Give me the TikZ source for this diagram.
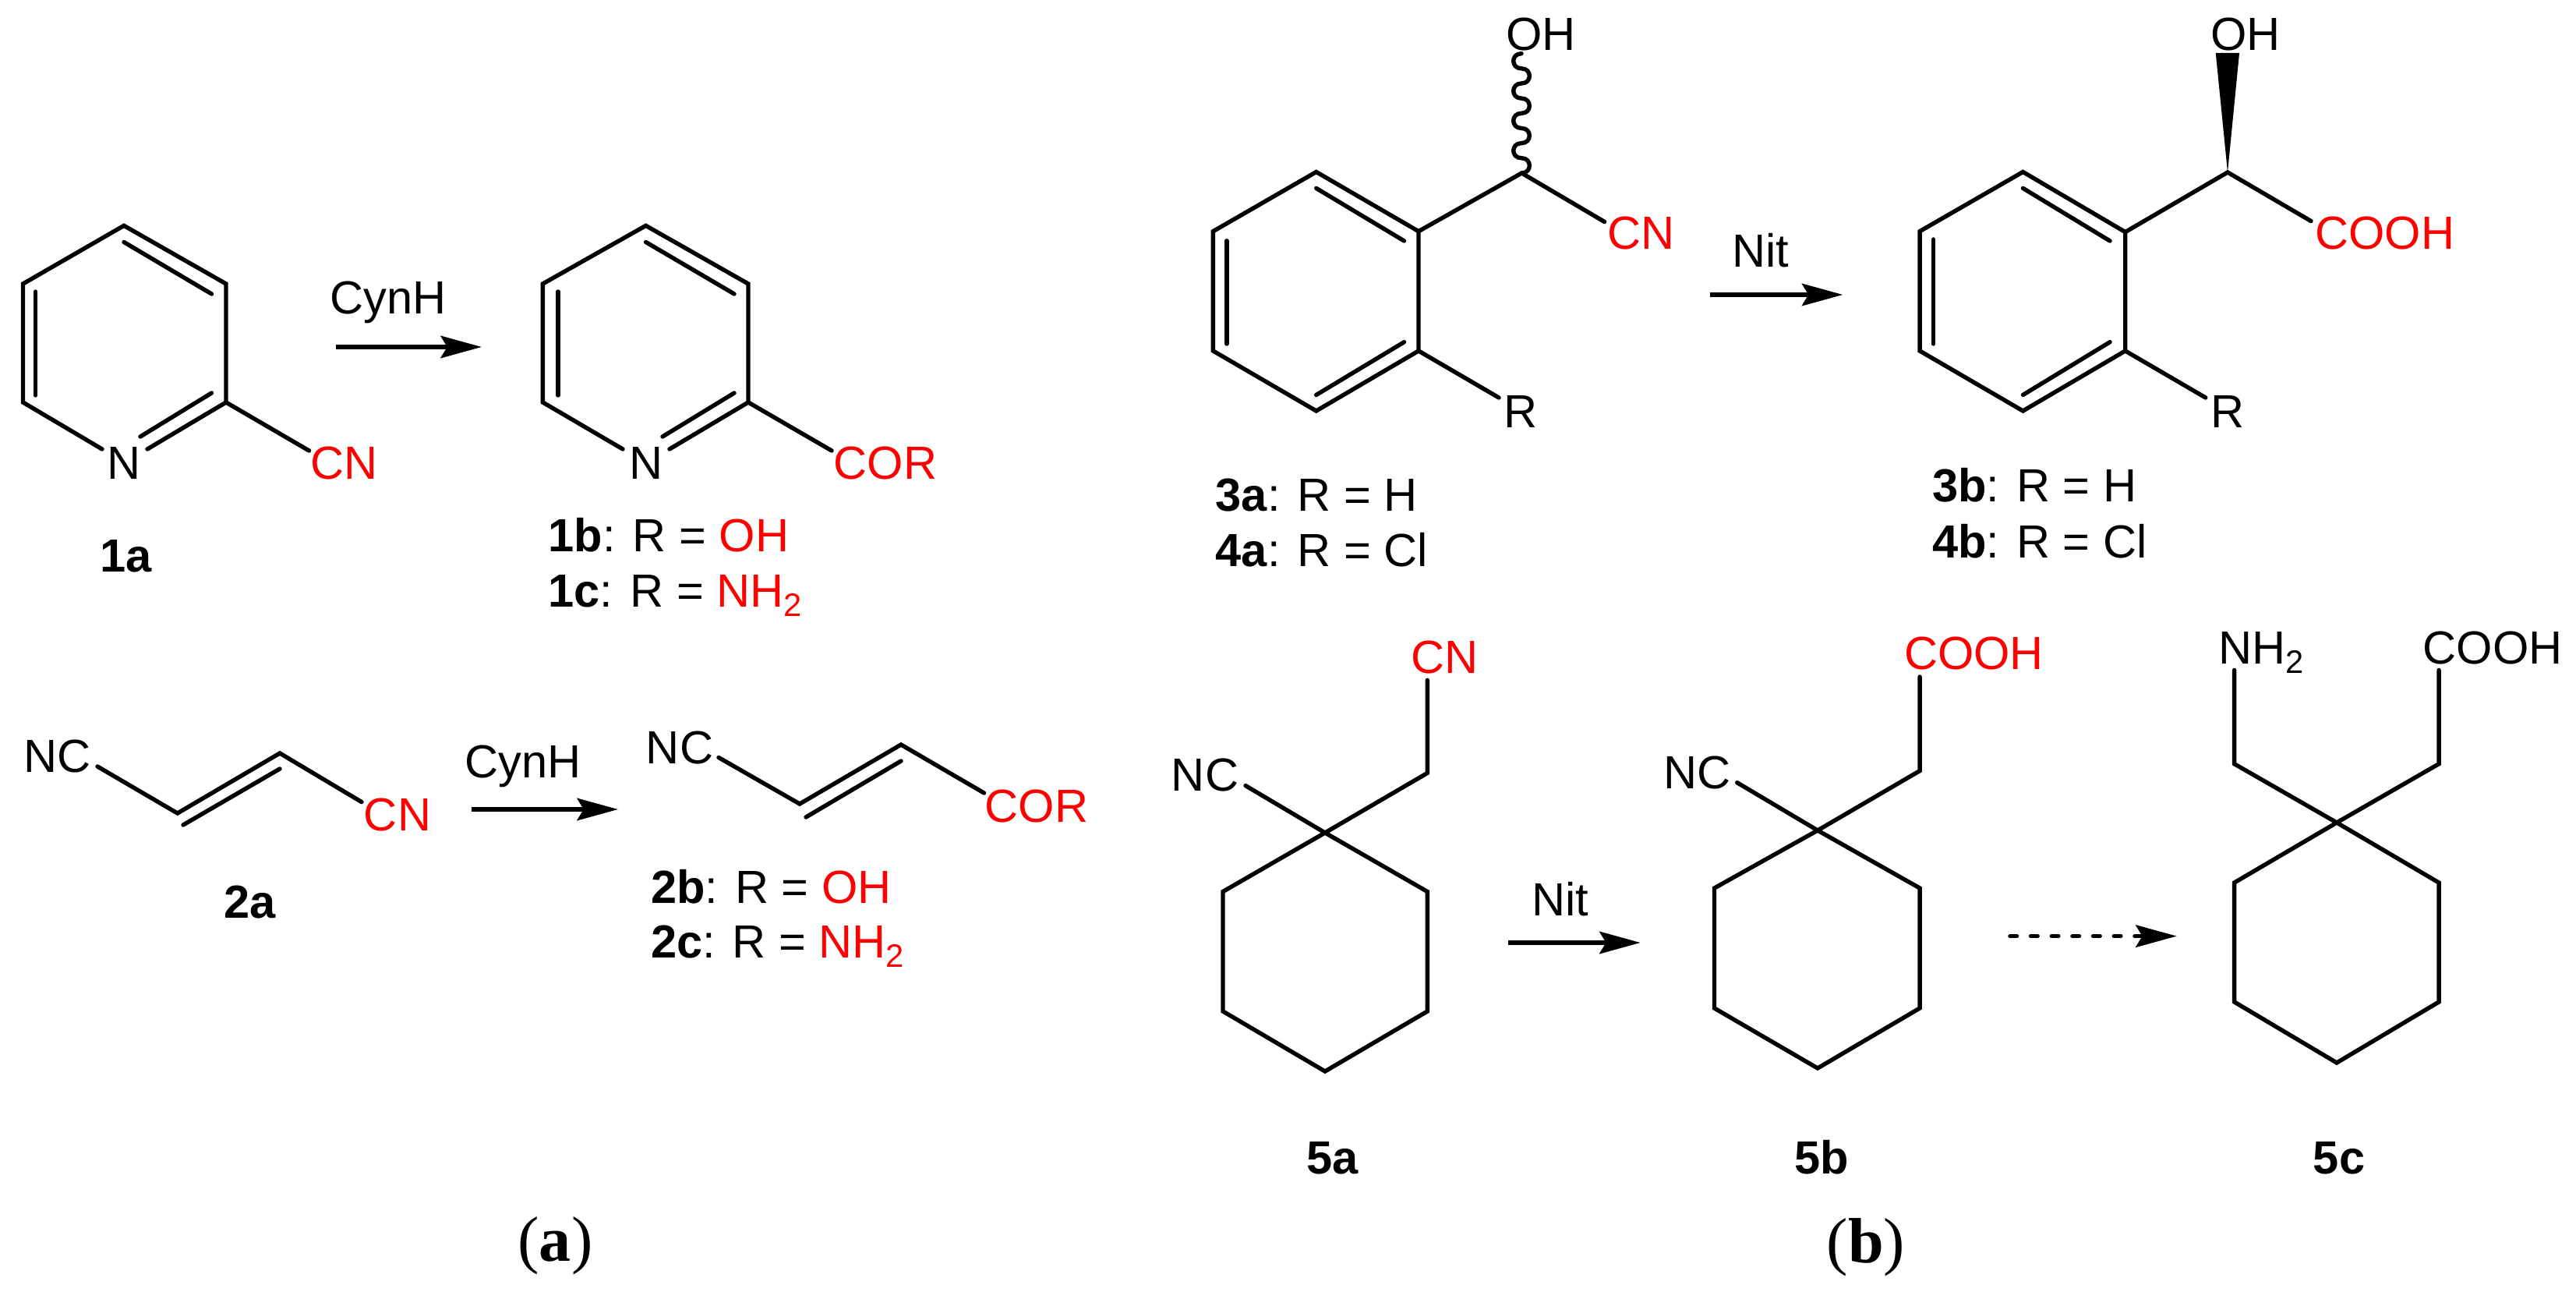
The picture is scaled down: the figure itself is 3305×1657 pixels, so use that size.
\documentclass[tikz,border=0pt]{standalone}
\usepackage{fontspec}
\setmainfont{Liberation Sans}
\newfontfamily\capfont{Liberation Serif}
\usetikzlibrary{arrows.meta}
\definecolor{hetred}{RGB}{255,0,0}
\newcommand{\lowtwo}{\raisebox{-2.9pt}{\fontsize{10}{10}\selectfont 2}}
\newcommand{\rd}[1]{\textcolor{hetred}{#1}}
\tikzset{
  bond/.style={line width=1.3pt,line cap=round,miter limit=10},
  atom/.style={inner sep=0pt,outer sep=0pt,anchor=base,font=\fontsize{14.3}{16}\selectfont},
  lab/.style={inner sep=0pt,outer sep=0pt,anchor=base west,font=\fontsize{14.3}{16}\selectfont},
  panel/.style={inner sep=0pt,outer sep=0pt,anchor=base,font=\fontsize{19.7}{22}\selectfont\capfont},
  rxn/.style={line width=1.37pt,-{Stealth[length=12.6pt,width=6.8pt,inset=2pt]}},
  rxnd/.style={rxn,line cap=round,dash pattern=on 2pt off 4.4pt}
}
\begin{document}
\begin{tikzpicture}[x=0.24pt,y=-0.24pt]
\useasboundingbox (0,0) rectangle (3305,1657);
% ---------- 1a
\coordinate (a1) at (159,289.4); \coordinate (a2) at (290,364); \coordinate (a3) at (290,516);
\coordinate (a4) at (29.5,516); \coordinate (a5) at (29.5,364);
\coordinate (a6) at (131,576); \coordinate (a7) at (189,576); \coordinate (a8) at (396.5,578);
\draw[bond] (a6) -- (a4) -- (a5) -- (a1) -- (a2) -- (a3) -- (a7);
\draw[bond] (a3) -- (a8);
\coordinate (a9) at (159,310.5); \coordinate (a10) at (271.5,377);
\coordinate (a11) at (45.5,374); \coordinate (a12) at (45.5,507);
\coordinate (a13) at (271.5,504); \coordinate (a14) at (180,560);
\draw[bond] (a9) -- (a10); \draw[bond] (a11) -- (a12); \draw[bond] (a13) -- (a14);
\node[atom] (aN) at (159,614) {N};
\node[atom] (aCN) at (442,614) {\rd{CN}};
\node[atom] (l1a) at (162,733) {\textbf{1a}};
\node[atom] (cyn1) at (498,403) {CynH};
\coordinate (ar1s) at (431,445); \coordinate (ar1e) at (618,445);
\draw[rxn] (ar1s) -- (ar1e);
% ---------- 1b
\coordinate (b1) at (828.6,289.4); \coordinate (b2) at (960,364); \coordinate (b3) at (960,516);
\coordinate (b4) at (696.4,516); \coordinate (b5) at (696.4,364);
\coordinate (b6) at (799,576); \coordinate (b7) at (859,576); \coordinate (b8) at (1067,578);
\draw[bond] (b6) -- (b4) -- (b5) -- (b1) -- (b2) -- (b3) -- (b7);
\draw[bond] (b3) -- (b8);
\coordinate (b9) at (828.6,310.5); \coordinate (b10) at (942,377);
\coordinate (b11) at (716,374); \coordinate (b12) at (716,507);
\coordinate (b13) at (942,504); \coordinate (b14) at (850,560);
\draw[bond] (b9) -- (b10); \draw[bond] (b11) -- (b12); \draw[bond] (b13) -- (b14);
\node[atom] (bN) at (828.6,614) {N};
\node[atom] (bCOR) at (1136,614) {\rd{COR}};
\node[lab] (l1b) at (703.6,707) {\textbf{1b}: R = \rd{OH}};
\node[lab] (l1c) at (703.6,778) {\textbf{1c}: R = \rd{NH\lowtwo}};
% ---------- 2a
\coordinate (c1) at (125,983); \coordinate (c2) at (227.7,1043); \coordinate (c3) at (359,966); \coordinate (c4) at (464,1028.6);
\draw[bond] (c1) -- (c2) -- (c3) -- (c4);
\coordinate (c5) at (235,1058); \coordinate (c6) at (359,986);
\draw[bond] (c5) -- (c6);
\node[atom] (cNC) at (74,990) {NC};
\node[atom] (cCN) at (510,1065) {\rd{CN}};
\node[atom] (l2a) at (321,1177) {\textbf{2a}};
\node[atom] (cyn2) at (671,997) {CynH};
\coordinate (ar2s) at (605,1038); \coordinate (ar2e) at (793,1038);
\draw[rxn] (ar2s) -- (ar2e);
% ---------- 2b
\coordinate (d1) at (922,971.5); \coordinate (d2) at (1026,1031); \coordinate (d3) at (1156,955); \coordinate (d4) at (1262.5,1017);
\draw[bond] (d1) -- (d2) -- (d3) -- (d4);
\coordinate (d5) at (1034,1048); \coordinate (d6) at (1156,976);
\draw[bond] (d5) -- (d6);
\node[atom] (dNC) at (872,979) {NC};
\node[atom] (dCOR) at (1330,1054) {\rd{COR}};
\node[lab] (l2b) at (835,1158) {\textbf{2b}: R = \rd{OH}};
\node[lab] (l2c) at (835,1228) {\textbf{2c}: R = \rd{NH\lowtwo}};
\node[panel] (pa) at (712.5,1617) {(\textbf{a})};
% ---------- 3a
\coordinate (e1) at (1688.7,220.5); \coordinate (e2) at (1820,296.7); \coordinate (e3) at (1820,450);
\coordinate (e4) at (1688.7,527); \coordinate (e5) at (1556.4,450); \coordinate (e6) at (1556.4,296.7);
\draw[bond] (e1) -- (e2) -- (e3) -- (e4) -- (e5) -- (e6) -- cycle;
\coordinate (e7) at (1688.7,241.4); \coordinate (e8) at (1801.5,309);
\coordinate (e9) at (1573.8,308.8); \coordinate (e10) at (1573.8,441);
\coordinate (e11) at (1801.5,438.7); \coordinate (e12) at (1688.7,506.5);
\draw[bond] (e7) -- (e8); \draw[bond] (e9) -- (e10); \draw[bond] (e11) -- (e12);
\coordinate (e13) at (1952.3,222); \coordinate (e14) at (2058.6,284.5); \coordinate (e15) at (1923,510);
\draw[bond] (e2) -- (e13) -- (e14); \draw[bond] (e3) -- (e15);
\coordinate (e16) at (1952,68.7);
\draw[bond] (e16)
  .. controls (1938.27,68.7) and (1938.27,87.85) .. (1952,87.85)
  .. controls (1965.73,87.85) and (1965.73,107) .. (1952,107)
  .. controls (1938.27,107) and (1938.27,126.15) .. (1952,126.15)
  .. controls (1965.73,126.15) and (1965.73,145.3) .. (1952,145.3)
  .. controls (1938.27,145.3) and (1938.27,164.45) .. (1952,164.45)
  .. controls (1965.73,164.45) and (1965.73,183.6) .. (1952,183.6)
  .. controls (1938.27,183.6) and (1938.27,202.75) .. (1952,202.75)
  .. controls (1965.73,202.75) and (1965.73,221.9) .. (e13);
\node[atom] (eOH) at (1977,64.5) {OH};
\node[atom] (eCN) at (2105,320) {\rd{CN}};
\node[atom] (eR) at (1951,549) {R};
\node[atom] (nit1) at (2259,343) {Nit};
\coordinate (ar3s) at (2194,378); \coordinate (ar3e) at (2364.4,378);
\draw[rxn] (ar3s) -- (ar3e);
\node[lab] (l3a) at (1559.7,655.3) {\textbf{3a}: R = H};
\node[lab] (l4a) at (1559.7,727) {\textbf{4a}: R = Cl};
% ---------- 3b
\coordinate (f1) at (2595.4,220.5); \coordinate (f2) at (2726.7,297.6); \coordinate (f3) at (2726.7,450);
\coordinate (f4) at (2595.4,527); \coordinate (f5) at (2463,450); \coordinate (f6) at (2463,296.7);
\draw[bond] (f1) -- (f2) -- (f3) -- (f4) -- (f5) -- (f6) -- cycle;
\coordinate (f7) at (2595.4,241.4); \coordinate (f8) at (2707,309);
\coordinate (f9) at (2480.5,307); \coordinate (f10) at (2480.5,441);
\coordinate (f11) at (2707,438.7); \coordinate (f12) at (2595.4,506.5);
\draw[bond] (f7) -- (f8); \draw[bond] (f9) -- (f10); \draw[bond] (f11) -- (f12);
\coordinate (f13) at (2858,221); \coordinate (f14) at (2965,283.6); \coordinate (f15) at (2829.7,510);
\draw[bond] (f2) -- (f13) -- (f14); \draw[bond] (f3) -- (f15);
\coordinate (w1) at (2842.7,68); \coordinate (w2) at (2873,68);
\fill (f13) -- (w1) -- (w2) -- cycle;
\node[atom] (fOH) at (2880.7,64.5) {OH};
\node[atom] (fCOOH) at (3059.7,320) {\rd{COOH}};
\node[atom] (fR) at (2858,549) {R};
\node[lab] (l3b) at (2479,643.7) {\textbf{3b}: R = H};
\node[lab] (l4b) at (2479,715.5) {\textbf{4b}: R = Cl};
% ---------- 5a
\coordinate (g0) at (1700,1068); \coordinate (g1) at (1831.3,991.4); \coordinate (g2) at (1831.3,872.3);
\coordinate (g3) at (1598,1007.6);
\coordinate (g4) at (1831.3,1143.5); \coordinate (g5) at (1831.3,1297); \coordinate (g6) at (1700,1374);
\coordinate (g7) at (1569,1297); \coordinate (g8) at (1569,1143.5);
\draw[bond] (g0) -- (g4) -- (g5) -- (g6) -- (g7) -- (g8) -- cycle;
\draw[bond] (g2) -- (g1) -- (g0) -- (g3);
\node[atom] (gCN) at (1853,863) {\rd{CN}};
\node[atom] (gNC) at (1546,1014) {NC};
\node[atom] (l5a) at (1710,1505) {\textbf{5a}};
\node[atom] (nit2) at (2001.5,1174) {Nit};
\coordinate (ar4s) at (1934.6,1209); \coordinate (ar4e) at (2104.7,1209);
\draw[rxn] (ar4s) -- (ar4e);
% ---------- 5b
\coordinate (h0) at (2332,1065); \coordinate (h1) at (2463,988.6); \coordinate (h2) at (2463,868);
\coordinate (h3) at (2228.7,1003.7);
\coordinate (h4) at (2463,1139); \coordinate (h5) at (2463,1293); \coordinate (h6) at (2332,1370);
\coordinate (h7) at (2199.5,1293); \coordinate (h8) at (2199.5,1139);
\draw[bond] (h0) -- (h4) -- (h5) -- (h6) -- (h7) -- (h8) -- cycle;
\draw[bond] (h2) -- (h1) -- (h0) -- (h3);
\node[atom] (hCOOH) at (2532.5,858) {\rd{COOH}};
\node[atom] (hNC) at (2177.6,1011) {NC};
\node[atom] (l5b) at (2337,1505) {\textbf{5b}};
\coordinate (ar5s) at (2579,1200.6); \coordinate (ar5e) at (2792.7,1200.6);
\draw[rxnd] (ar5s) -- (ar5e);
% ---------- 5c
\coordinate (k0) at (2998,1055); \coordinate (k1) at (2866.6,979.7); \coordinate (k2) at (2866.6,859.4);
\coordinate (k3) at (3129,979.7); \coordinate (k4) at (3129,859.4);
\coordinate (k5) at (3129,1132); \coordinate (k6) at (3129,1285); \coordinate (k7) at (2998,1363);
\coordinate (k8) at (2866.6,1285); \coordinate (k9) at (2866.6,1132);
\draw[bond] (k0) -- (k5) -- (k6) -- (k7) -- (k8) -- (k9) -- cycle;
\draw[bond] (k2) -- (k1) -- (k0) -- (k3) -- (k4);
\node[lab] (kNH) at (2846,851.6) {NH\lowtwo};
\node[atom] (kCOOH) at (3198,851) {COOH};
\node[atom] (l5c) at (3001,1505) {\textbf{5c}};
\node[panel] (pb) at (2394,1619) {(\textbf{b})};
\end{tikzpicture}
\end{document}
